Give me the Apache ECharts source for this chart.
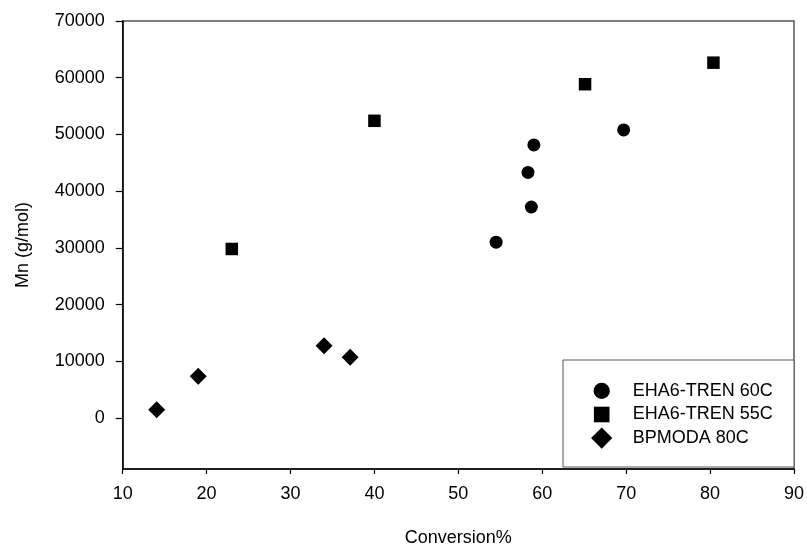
<!DOCTYPE html>
<html>
<head>
<meta charset="utf-8">
<script src="https://cdn.jsdelivr.net/npm/echarts@6/dist/echarts.min.js"></script>
<style>html,body{margin:0;padding:0;background:#fff}#c{width:807px;height:552px}</style>
</head>
<body>
<div id="c"></div>
<script>
// Series names
const seriesNames = ['EHA6-TREN 60C', 'EHA6-TREN 55C', 'BPMODA 80C'];
// EHA6-TREN 60C  [conversion %, Mn]
const eha60 = [[54.5, 31000], [58.7, 37200], [58.3, 43300], [59.0, 48150], [69.7, 50800]];
// EHA6-TREN 55C
const eha55 = [[23.0, 29800], [40.0, 52400], [65.1, 58850], [80.4, 62650]];
// BPMODA 80C
const bpmoda80 = [[14.05, 1450], [19.0, 7350], [34.0, 12750], [37.1, 10700]];
// Tick labels
const yTicks = [0, 10000, 20000, 30000, 40000, 50000, 60000, 70000];
const xTicks = [10, 20, 30, 40, 50, 60, 70, 80, 90];

const font = 'Liberation Sans, Arial, sans-serif';
const symbols = ['circle', 'rect', 'diamond'];
const sizes = [13, 12.5, 17];

// legend layout (one legend per item so each icon keeps its own size)
const iconCX = 601.7, textX = 632.7;
const rowCY = [390, 413.5, 438];
const legends = seriesNames.map((n, i) => {
  const s = sizes[i] / 0.8;
  const left = iconCX - s / 2;
  return {
    orient: 'vertical', left: left, top: rowCY[i] - Math.max(s, 16) / 2,
    padding: 0, itemWidth: s, itemHeight: s, z: 10,
    textStyle: { color: '#000', fontSize: 18, fontFamily: font,
      padding: [0, 0, 0, textX - (left + s + 5)] },
    data: [n]
  };
});

const chart = echarts.init(document.getElementById('c'));
chart.setOption({
  animation: false,
  backgroundColor: '#fff',
  grid: {
    left: 122.7, right: 12.3, top: 21, bottom: 82.7,
    show: true, borderColor: '#555', borderWidth: 1.5, backgroundColor: 'transparent'
  },
  graphic: [{
    type: 'rect', z: 5,
    shape: { x: 563, y: 360, width: 231, height: 107 },
    style: { fill: '#fff', stroke: '#555', lineWidth: 1 }
  }],
  xAxis: {
    type: 'value', min: 10, max: 90, interval: 10,
    name: 'Conversion%', nameLocation: 'middle', nameGap: 60,
    nameTextStyle: { color: '#000', fontSize: 18, fontFamily: font },
    axisLine: { show: true, onZero: false, lineStyle: { color: '#000', width: 1.5 } },
    axisTick: { show: true, length: 5, lineStyle: { color: '#000', width: 1.2 }, customValues: xTicks },
    axisLabel: { color: '#000', fontSize: 18, fontFamily: font, margin: 16, customValues: xTicks,
      formatter: v => String(v) },
    splitLine: { show: false }
  },
  yAxis: {
    type: 'value', min: -9000, max: 70000,
    name: 'Mn (g/mol)', nameLocation: 'middle', nameGap: 91,
    nameTextStyle: { color: '#000', fontSize: 18, fontFamily: font },
    axisLine: { show: true, onZero: false, lineStyle: { color: '#000', width: 1.5 } },
    axisTick: { show: true, length: 7, lineStyle: { color: '#000', width: 1.2 }, customValues: yTicks },
    axisLabel: { color: '#000', fontSize: 18, fontFamily: font, margin: 18, customValues: yTicks,
      formatter: v => String(v) },
    splitLine: { show: false }
  },
  legend: legends,
  series: [
    { name: seriesNames[0], type: 'scatter', symbol: symbols[0], symbolSize: sizes[0], data: eha60,
      itemStyle: { color: '#000', opacity: 1 } },
    { name: seriesNames[1], type: 'scatter', symbol: symbols[1], symbolSize: sizes[1], data: eha55,
      itemStyle: { color: '#000', opacity: 1 } },
    { name: seriesNames[2], type: 'scatter', symbol: symbols[2], symbolSize: sizes[2], data: bpmoda80,
      itemStyle: { color: '#000', opacity: 1 } }
  ]
});
</script>
</body>
</html>
